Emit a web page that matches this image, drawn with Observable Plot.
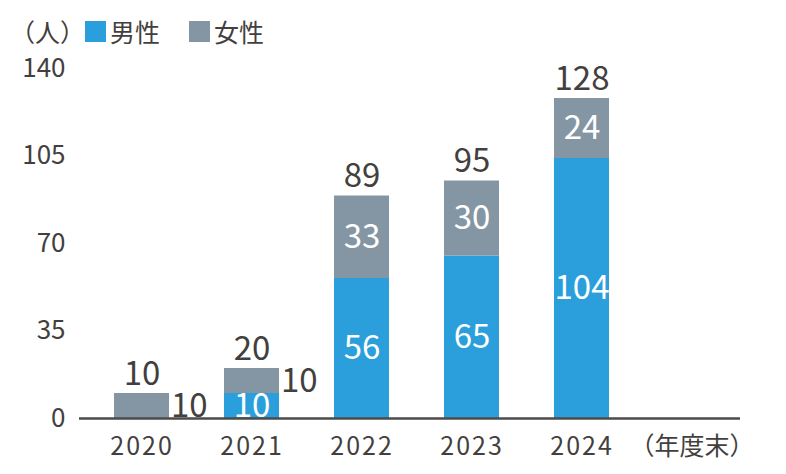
<!DOCTYPE html>
<html lang="ja">
<head>
<meta charset="utf-8">
<script src="https://cdn.jsdelivr.net/npm/d3@7"></script>
<script src="https://cdn.jsdelivr.net/npm/@observablehq/plot@0.6"></script>
<style>
  body { margin: 0; background: #fff; font-family: "Noto Sans CJK JP", sans-serif; color: #433f3e; }
  #head { height: 44px; display: flex; align-items: center; padding-left: 10px; padding-top: 18px; box-sizing: border-box; font-size: 25px; line-height: 1; }
  #head .sw { display: inline-block; width: 21px; height: 21px; }
  #head .lab { margin-left: 4px; }
  #head .gap { margin-left: 29px; }
  #chart g[aria-label="x-axis tick label"] text { letter-spacing: 2px; }
  #chart g[aria-label="x-axis tick label"] text.note { letter-spacing: 0; }
</style>
</head>
<body>
<div id="head"></div>
<div id="chart"></div>
<script>
// 年度末時点の人数（男性・女性）
const years = ["2020", "2021", "2022", "2023", "2024"];
const axisNote = "（年度末）";
const male = [0, 10, 56, 65, 104];
const female = [10, 10, 33, 30, 24];
const seriesNames = ["男性", "女性"];
const seriesColors = ["#2a9fdc", "#8496a3"];
const yTicks = [0, 35, 70, 105, 140];
const unitLabel = "（人）";
const textColor = "#433f3e";

// 凡例
const head = document.getElementById("head");
const unit = document.createElement("span");
unit.textContent = unitLabel;
head.appendChild(unit);
seriesNames.forEach((name, i) => {
  const sw = document.createElement("span");
  sw.className = "sw" + (i > 0 ? " gap" : "");
  sw.style.background = seriesColors[i];
  head.appendChild(sw);
  const lab = document.createElement("span");
  lab.className = "lab";
  lab.textContent = name;
  head.appendChild(lab);
});

// 積み上げ用の行データ（男性が下段）
const rows = years.flatMap((year, i) => [
  {year, sex: seriesNames[0], value: male[i]},
  {year, sex: seriesNames[1], value: female[i]}
]);
const totals = years.map((year, i) => ({year, total: male[i] + female[i]}));

// 小さい女性区分はバーの右外側にラベルを置く
const isOutside = d => d.sex === seriesNames[1] && d.value <= 10;
const insideText = d => (d.value > 0 && !isOutside(d)) ? String(d.value) : null;
const outsideText = d => isOutside(d) ? String(d.value) : null;

const chart = Plot.plot({
  width: 786,
  height: 430,
  marginTop: 24,
  marginBottom: 56,
  marginLeft: 79,
  marginRight: 46,
  style: {fontFamily: "'Noto Sans CJK JP', sans-serif", fontSize: "26px", color: textColor, background: "#fff"},
  x: {type: "band", domain: [...years, axisNote], paddingInner: 0.5, paddingOuter: 0.2545, align: 0.625, label: null},
  y: {domain: [0, 140], label: null},
  color: {domain: seriesNames, range: seriesColors},
  marks: [
    Plot.barY(rows, {x: "year", y: "value", fill: "sex"}),
    Plot.text(rows, Plot.stackY({x: "year", y: "value", text: insideText, fill: "#fff", fontSize: 33})),
    Plot.text(rows, Plot.stackY({x: "year", y: "value", text: outsideText, fill: textColor, fontSize: 33, textAnchor: "start", dx: 29})),
    Plot.text(totals, {x: "year", y: "total", text: d => String(d.total), fill: textColor, fontSize: 33, lineAnchor: "bottom", dy: -9}),
    Plot.axisY({ticks: yTicks, tickSize: 0, tickPadding: 14, fill: textColor}),
    Plot.axisX({tickSize: 0, tickPadding: 19, fontSize: 25, fill: textColor}),
    Plot.ruleY([0], {stroke: "#4d4a4a", strokeWidth: 2.5})
  ]
});
// 「（年度末）」は字間を詰める
chart.querySelectorAll('g[aria-label="x-axis tick label"] text').forEach(t => {
  if (t.textContent === axisNote) t.classList.add("note");
});
document.getElementById("chart").appendChild(chart);
</script>
</body>
</html>
